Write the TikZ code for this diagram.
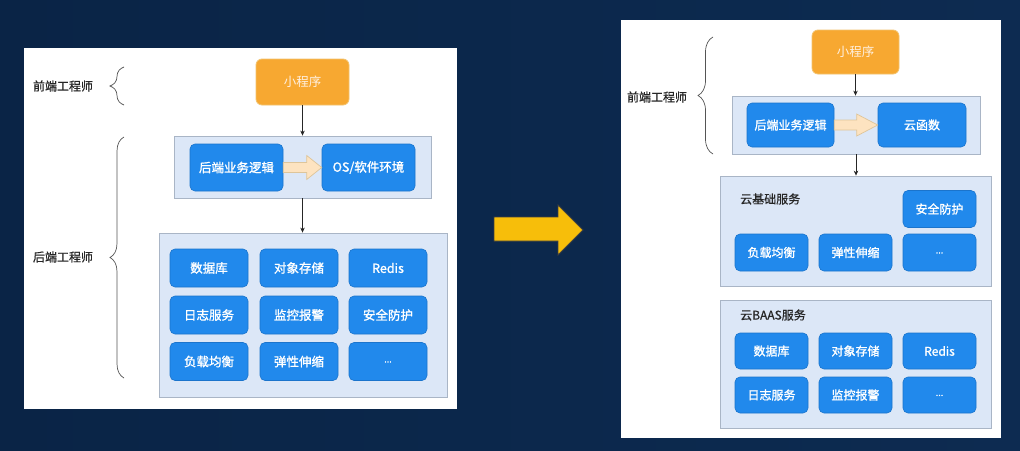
\documentclass[tikz,border=0pt]{standalone}
\usepackage{fontspec}
\setmainfont{Noto Sans CJK SC}
\newfontfamily\boxfont[FakeBold=1.3]{Noto Sans CJK SC}
\newfontfamily\lblfont[FakeBold=0.8]{Noto Sans CJK SC}
\usetikzlibrary{decorations.pathreplacing,calc,arrows.meta}
\definecolor{bgA}{HTML}{0A2446}
\definecolor{bgB}{HTML}{12365F}
\definecolor{bgC}{HTML}{0D2B51}
\definecolor{boxblue}{HTML}{2189EC}
\definecolor{boxborder}{HTML}{1B74CC}
\definecolor{contfill}{HTML}{DCE7F7}
\definecolor{contborder}{HTML}{A9B5C6}
\definecolor{orangefill}{HTML}{F7A831}
\definecolor{orangeborder}{HTML}{F2C36F}
\definecolor{fatfill}{HTML}{FDE3C0}
\definecolor{fatborder}{HTML}{DEC59A}
\definecolor{bigyellow}{HTML}{F7BE0A}
\definecolor{bracegray}{HTML}{555555}
\newcommand{\mydots}{\raisebox{-2pt}{\fontsize{9}{10}\selectfont ...}}
\begin{document}
\begin{tikzpicture}[x=1pt,y=-1pt,
  panel/.style={fill=white,draw=none},
  cont/.style={fill=contfill,draw=contborder,line width=0.8pt,inner sep=0pt},
  bbox/.style={fill=boxblue,draw=boxborder,line width=0.6pt,rounded corners=5pt,inner sep=0pt,
    text=white,font=\boxfont\fontsize{12.5}{14}\selectfont},
  sbox/.style={bbox,font=\boxfont\fontsize{12}{14}\selectfont},
  obox/.style={fill=orangefill,draw=orangeborder,line width=0.8pt,rounded corners=6pt,inner sep=0pt,
    text=white!88!orange,font=\fontsize{12.5}{14}\selectfont},
  lbl/.style={text=black!85,font=\lblfont\fontsize{12}{14}\selectfont,inner sep=0pt},
  conn/.style={draw=black!85,line width=0.7pt,-{Stealth[length=5pt,width=4.5pt]}},
  fat/.style={fill=fatfill,draw=fatborder,line width=0.7pt,line join=miter},
  brc/.style={draw=bracegray,line width=0.7pt,decorate,decoration={brace,amplitude=14pt}}
]
\useasboundingbox (0,0) rectangle (1020,450);
\shade[left color=bgA,middle color=bgB,right color=bgC] (0,0) rectangle (1020,450);

% ===== left panel =====
\fill[panel] (24,48) rectangle (457,409);
\node[obox,minimum width=93,minimum height=46] (xcxL) at (302.5,82) {小程序};
\node[cont,minimum width=257,minimum height=62] (c1L) at (302.5,167) {};
\node[bbox,minimum width=93,minimum height=47] (hdL) at (236.5,167.5) {后端业务逻辑};
\node[bbox,minimum width=93,minimum height=47] (osL) at (368.5,167.5) {OS/软件环境};
\node[cont,minimum width=288,minimum height=164] (c2L) at (303,315) {};
\foreach \n/\t/\x/\y in {a/数据库/209/268, b/对象存储/299/268, c/Redis/388/268,
  d/日志服务/209/315, e/监控报警/299/315, f/安全防护/388/315,
  g/负载均衡/209/361.5, h/弹性伸缩/299/361.5, i/\mydots/388/361.5}
  \node[bbox,minimum width=78,minimum height=38] (L\n) at (\x,\y) {\t};
\draw[conn] (xcxL.south) -- (c1L.north);
\draw[conn] (c1L.south) -- (c1L.south |- c2L.north);
\draw[fat] ($(hdL.east)+(0,-5)$) -- ($(osL.west)+(-15,-5)$) -- ($(osL.west)+(-15,-12)$)
  -- (osL.west) -- ($(osL.west)+(-15,12)$) -- ($(osL.west)+(-15,5)$) -- ($(hdL.east)+(0,5)$) -- cycle;
\coordinate (bfL1) at (124,105); \coordinate (bfL2) at (124,67);
\coordinate (bbL1) at (124,378); \coordinate (bbL2) at (124,137);
\draw[brc] (bfL1) -- (bfL2);
\draw[brc] (bbL1) -- (bbL2);
\node[lbl] (feL) at (63,86) {前端工程师};
\node[lbl] (beL) at (63,257) {后端工程师};

% ===== big arrow =====
\draw[fill=bigyellow,draw=black!75,line width=0.8pt,line join=miter]
  (494,217) -- (558,217) -- (558,205) -- (583,230) -- (558,255) -- (558,241) -- (494,241) -- cycle;

% ===== right panel =====
\fill[panel] (621,20) rectangle (1001,438);
\node[obox,minimum width=87,minimum height=44] (xcxR) at (855.5,52) {小程序};
\node[cont,minimum width=248,minimum height=58] (c1R) at (856,125) {};
\node[sbox,minimum width=87,minimum height=44] (hdR) at (790.5,125) {后端业务逻辑};
\node[sbox,minimum width=88,minimum height=44] (yhs) at (922,125) {云函数};
\node[cont,minimum width=271,minimum height=110] (c2R) at (855.5,231) {};
\node[cont,minimum width=271,minimum height=128] (c3R) at (855.5,364) {};
\node[lbl,anchor=west] (jcfw) at (740,199) {云基础服务};
\node[lbl,anchor=west] (baas) at (740,315) {云BAAS服务};
\foreach \n/\t/\x/\y in {a/安全防护/939.5/209, b/负载均衡/771.5/252.5, c/弹性伸缩/855.5/252.5, d/\mydots/939.5/252.5}
  \node[sbox,minimum width=73,minimum height=37] (R\n) at (\x,\y) {\t};
\foreach \n/\t/\x/\y in {e/数据库/771.5/351, f/对象存储/855.5/351, g/Redis/939.5/351,
  h/日志服务/771.5/395, i/监控报警/855.5/395, j/\mydots/939.5/395}
  \node[sbox,minimum width=73,minimum height=36] (R\n) at (\x,\y) {\t};
\draw[conn] (xcxR.south) -- (xcxR.south |- c1R.north);
\draw[conn] (c1R.south) -- (c1R.south |- c2R.north);
\draw[fat] ($(hdR.east)+(0,-5)$) -- ($(yhs.west)+(-21,-5)$) -- ($(yhs.west)+(-21,-11)$)
  -- (yhs.west) -- ($(yhs.west)+(-21,11)$) -- ($(yhs.west)+(-21,5)$) -- ($(hdR.east)+(0,5)$) -- cycle;
\coordinate (bfR1) at (713,154); \coordinate (bfR2) at (713,37);
\draw[brc,decoration={brace,amplitude=15pt}] (bfR1) -- (bfR2);
\node[lbl] (feR) at (657,97) {前端工程师};
\end{tikzpicture}
\end{document}
